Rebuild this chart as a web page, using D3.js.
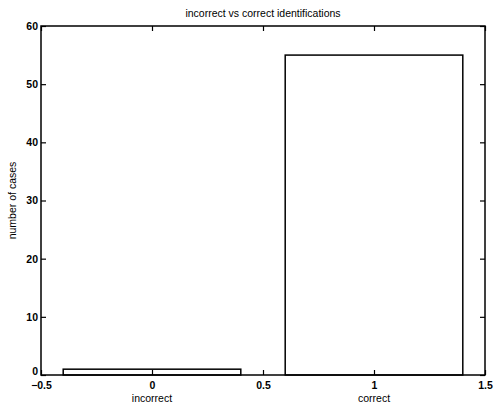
<!DOCTYPE html>
<html>
<head>
<meta charset="utf-8">
<script src="https://cdn.jsdelivr.net/npm/d3@7"></script>
<style>
  body { margin: 0; background: #fff; }
  text { font-family: "Liberation Sans", Arial, sans-serif; fill: #000; }
</style>
</head>
<body>
<div id="chart"></div>
<script>
// data
var categories = ['incorrect', 'correct'];
var positions = [0, 1];
var counts = [1, 55];
var xTicks = [-0.5, 0, 0.5, 1, 1.5];
var yTicks = [0, 10, 20, 30, 40, 50, 60];

var W = 494, H = 407;
var margin = {top: 26, right: 9, bottom: 32, left: 41};
var barWidth = 0.8;

var svg = d3.select('#chart').append('svg').attr('width', W).attr('height', H);

var x = d3.scaleLinear().domain([-0.5, 1.5]).range([margin.left, W - margin.right]);
var y = d3.scaleLinear().domain([0, 60]).range([H - margin.bottom, margin.top]);

// bars
svg.selectAll('.bar').data(counts).enter()
   .append('rect')
   .attr('class', 'bar')
   .attr('x', (d, i) => x(positions[i] - barWidth / 2))
   .attr('width', (d, i) => x(positions[i] + barWidth / 2) - x(positions[i] - barWidth / 2))
   .attr('y', d => y(d))
   .attr('height', d => y(0) - y(d))
   .style('fill', 'none')
   .style('stroke', '#000')
   .style('stroke-width', 1.5);

// axes, matlab style: ticks inward on all four sides
var tick = 5;
function styleAxis(g) {
    g.select('.domain').remove();
    g.selectAll('.tick line').style('stroke', '#000').style('stroke-width', 1.2);
    g.selectAll('.tick text').style('font-size', '10.5px').style('font-weight', 'bold');
}

svg.append('g').attr('transform', `translate(0,${y(0)})`)
   .call(d3.axisBottom(x).tickValues(xTicks).tickSizeInner(-tick).tickPadding(7).tickFormat(d3.format('')))
   .call(styleAxis);
svg.append('g').attr('transform', `translate(0,${y(60)})`)
   .call(d3.axisTop(x).tickValues(xTicks).tickSizeInner(-tick).tickFormat(''))
   .call(styleAxis);
var yAxis = svg.append('g').attr('transform', `translate(${x(-0.5)},0)`)
   .call(d3.axisLeft(y).tickValues(yTicks).tickSizeInner(-tick).tickPadding(3))
   .call(styleAxis);
// the 0 label sits just above the -0.5 label, as in the original
yAxis.selectAll('.tick text').filter(d => d === 0).attr('dy', '-0.05em');
svg.append('g').attr('transform', `translate(${x(1.5)},0)`)
   .call(d3.axisRight(y).tickValues(yTicks).tickSizeInner(-tick).tickFormat(''))
   .call(styleAxis);

// frame
svg.append('rect')
   .attr('x', x(-0.5)).attr('y', y(60))
   .attr('width', x(1.5) - x(-0.5)).attr('height', y(0) - y(60))
   .style('fill', 'none').style('stroke', '#000').style('stroke-width', 1.5);

// category labels under the ticks
svg.selectAll('.cat').data(categories).enter()
   .append('text')
   .attr('class', 'cat')
   .attr('x', (d, i) => x(positions[i]))
   .attr('y', y(0) + 27)
   .style('text-anchor', 'middle')
   .style('font-size', '10.5px')
   .text(d => d);

// title + y label
svg.append('text')
   .attr('x', (x(-0.5) + x(1.5)) / 2).attr('y', 17)
   .style('text-anchor', 'middle').style('font-size', '10.5px')
   .text('incorrect vs correct identifications');

svg.append('text')
   .attr('transform', `translate(16,${(y(0) + y(60)) / 2}) rotate(-90)`)
   .style('text-anchor', 'middle').style('font-size', '10.5px')
   .text('number of cases');
</script>
</body>
</html>
